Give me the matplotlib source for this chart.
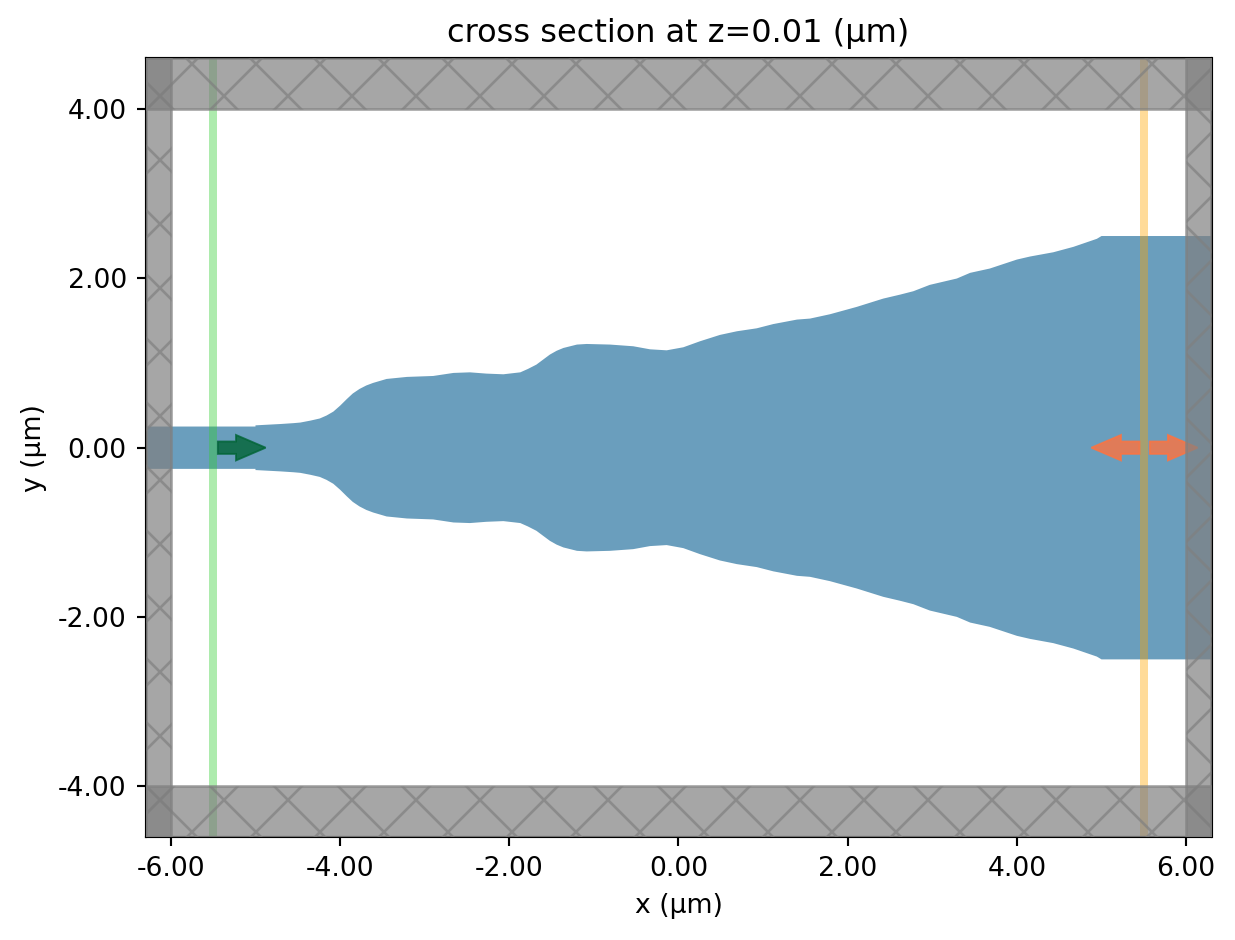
import matplotlib
matplotlib.use('Agg')
import matplotlib.pyplot as plt
from matplotlib.patches import Rectangle

W, H = 1235, 940
DPI = 192

# half width of the taper (um)
taper_x = [-5.0, -4.85, -4.7, -4.55, -4.47, -4.35, -4.24, -4.16, -4.08, -4.0, -3.92, -3.85, -3.77, -3.69, -3.61,
           -3.45, -3.21, -2.90, -2.66, -2.465, -2.27, -2.07, -1.87, -1.78, -1.68, -1.52, -1.44, -1.36, -1.20,
           -1.085, -0.81, -0.535, -0.337, -0.14, 0.057, 0.254, 0.49, 0.69, 0.925, 1.12, 1.40, 1.555, 1.79,
           2.107, 2.42, 2.62, 2.776, 2.97, 3.29, 3.447, 3.68, 4.0, 4.156, 4.43, 4.668, 4.945, 5.0]
taper_w = [0.264, 0.272, 0.28, 0.29, 0.297, 0.32, 0.345, 0.38, 0.426, 0.496, 0.575, 0.64, 0.694, 0.735, 0.765,
           0.812, 0.836, 0.847, 0.883, 0.89, 0.875, 0.867, 0.89, 0.93, 0.981, 1.10, 1.145, 1.178, 1.218,
           1.225, 1.218, 1.198, 1.162, 1.15, 1.186, 1.257, 1.332, 1.375, 1.41, 1.46, 1.513, 1.525, 1.576,
           1.663, 1.761, 1.808, 1.848, 1.923, 1.998, 2.065, 2.116, 2.222, 2.258, 2.308, 2.372, 2.467, 2.5]

wg_in_half = 0.25
wg_out_half = 2.5
xlim = (-6.3, 6.3)
ylim = (-4.6, 4.6)
pml_x = 6.0
pml_y = 4.0
source_x = -5.5
monitor_x = 5.5

xticks = [-6, -4, -2, 0, 2, 4, 6]
xticklabels = ['-6.00', '-4.00', '-2.00', '0.00', '2.00', '4.00', '6.00']
yticks = [-4, -2, 0, 2, 4]
yticklabels = ['-4.00', '-2.00', '0.00', '2.00', '4.00']

fig = plt.figure(figsize=(W / DPI, H / DPI), dpi=DPI)
ax = fig.add_axes([145.5 / W, 1 - 837.2 / H, (1211.5 - 145.5) / W, (837.2 - 58.2) / H])

# waveguide, taper and output section as one outline
top_x = [xlim[0], taper_x[0]] + taper_x + [xlim[1]]
top_y = [wg_in_half, wg_in_half] + taper_w + [wg_out_half]
outline_x = top_x + top_x[::-1]
outline_y = top_y + [-v for v in top_y[::-1]]
ax.fill(outline_x, outline_y, color='#6a9ebd', lw=0, zorder=1)

# source and monitor planes
ax.plot([source_x, source_x], ylim, color='limegreen', alpha=0.4, lw=3, solid_capstyle='butt', zorder=2)
ax.plot([monitor_x, monitor_x], ylim, color='orange', alpha=0.4, lw=3, solid_capstyle='butt', zorder=2)

# arrows
arrow_style = dict(width=0.146, head_width=0.3, head_length=0.35, length_includes_head=True,
                   alpha=0.8, lw=0.7, zorder=3)
ax.arrow(-5.445, 0, 0.565, 0, fc='#016435', ec='#016435', **arrow_style)
ax.arrow(5.449, 0, -0.569, 0, fc='#ff733f', ec='#ff733f', **arrow_style)
ax.arrow(5.57, 0, 0.565, 0, fc='#ff733f', ec='#ff733f', **arrow_style)

# absorbing layers
rects = [
    (xlim[0], ylim[0], -pml_x - xlim[0], ylim[1] - ylim[0]),
    (pml_x, ylim[0], xlim[1] - pml_x, ylim[1] - ylim[0]),
    (xlim[0], ylim[0], xlim[1] - xlim[0], -pml_y - ylim[0]),
    (xlim[0], pml_y, xlim[1] - xlim[0], ylim[1] - pml_y),
]
for x0, y0, w, h in rects:
    ax.add_patch(Rectangle((x0, y0), w, h, facecolor='gray', edgecolor='gray', alpha=0.7, hatch='x', lw=1, zorder=4))

ax.set_xlim(xlim)
ax.set_ylim(ylim)
ax.set_xticks(xticks)
ax.set_xticklabels(xticklabels)
ax.set_yticks(yticks)
ax.set_yticklabels(yticklabels)
ax.set_xlabel('x (μm)')
ax.set_ylabel('y (μm)')
ax.set_title('cross section at z=0.01 (μm)')

fig.savefig('out.png', dpi=DPI)
